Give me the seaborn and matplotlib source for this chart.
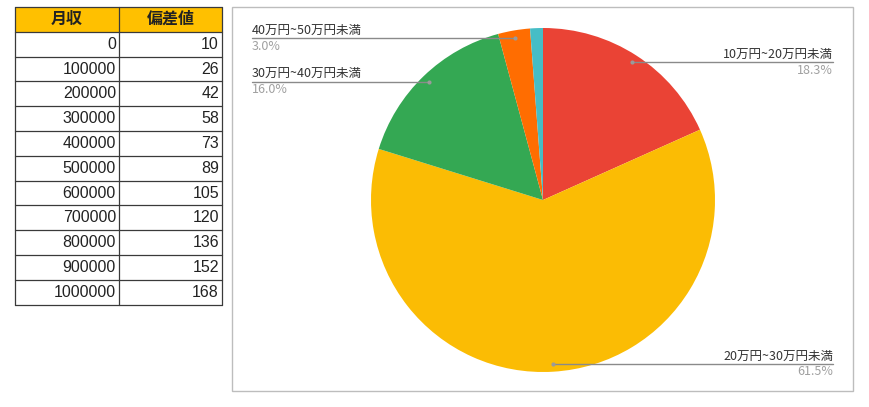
import numpy as np
import matplotlib.pyplot as plt
import seaborn as sns
from matplotlib.patches import Rectangle

# Table data (月収 -> 偏差値)
income = [0, 100000, 200000, 300000, 400000, 500000,
          600000, 700000, 800000, 900000, 1000000]
deviation = [10, 26, 42, 58, 73, 89, 105, 120, 136, 152, 168]
table_header = ["月収", "偏差値"]

# Pie data (share of monthly income bands, %)
pie_labels = ["10万円~20万円未満", "20万円~30万円未満", "30万円~40万円未満",
              "40万円~50万円未満", "50万円以上"]
pie_shares = [18.3, 61.5, 16.0, 3.0, 1.2]

sns.set_theme(style="white")
plt.rcParams['font.family'] = ['Liberation Sans', 'Noto Sans CJK JP', 'DejaVu Sans']

colors = sns.color_palette(["#EA4335", "#FBBC04", "#34A853", "#FF6D01", "#46BDC6"])

W, H = 870, 407
fig = plt.figure(figsize=(W / 100, H / 100), dpi=100)
fig.patch.set_facecolor("white")

# background axes in pixel coords: table + chart frame
bg = fig.add_axes([0, 0, 1, 1])
bg.set_xlim(0, W)
bg.set_ylim(H, 0)
bg.axis("off")

tx0, tx1, tx2 = 15, 119, 222
ty0, rh = 7, 24.8
nrows = len(income) + 1
bg.add_patch(Rectangle((tx0, ty0), tx2 - tx0, rh, color="#FFC000", lw=0))
for i in range(nrows + 1):
    y = ty0 + i * rh
    bg.plot([tx0, tx2], [y, y], color="#3a3a3a", lw=0.9)
for x in (tx0, tx1, tx2):
    bg.plot([x, x], [ty0, ty0 + nrows * rh], color="#3a3a3a", lw=0.9)

bg.text((tx0 + tx1) / 2, ty0 + rh / 2, table_header[0], ha="center", va="center",
        fontsize=11.5, fontweight="bold", color="#222222")
bg.text((tx1 + tx2) / 2, ty0 + rh / 2, table_header[1], ha="center", va="center",
        fontsize=11.5, fontweight="bold", color="#222222")
for i, (inc, dev) in enumerate(zip(income, deviation)):
    yc = ty0 + (i + 1.5) * rh
    bg.text(tx1 - 3, yc, str(inc), ha="right", va="center", fontsize=11.5, color="#222222")
    bg.text(tx2 - 3, yc, str(dev), ha="right", va="center", fontsize=11.5, color="#222222")

# chart frame
bg.add_patch(Rectangle((232, 7), 621, 384, fill=False, ec="#BDBDBD", lw=1))

# pie
cx, cy, R = 543, 200, 172
pax = fig.add_axes([(cx - R) / W, (H - cy - R) / H, 2 * R / W, 2 * R / H])
pax.pie(pie_shares, colors=colors, startangle=90, counterclock=False,
        wedgeprops=dict(linewidth=0))
pax.set_xlim(-1, 1)
pax.set_ylim(-1, 1)
pax.axis("off")

# overlay for leader lines and labels
ov = fig.add_axes([0, 0, 1, 1])
ov.set_xlim(0, W)
ov.set_ylim(H, 0)
ov.axis("off")
ov.patch.set_alpha(0)

cum = 0.0
for lab, share in zip(pie_labels, pie_shares):
    mid = np.deg2rad((cum + share / 2) / 100 * 360)
    cum += share
    if share < 2:
        continue
    dx, dy = np.sin(mid), -np.cos(mid)
    px, py = cx + 0.955 * R * dx, cy + 0.955 * R * dy
    right = dx > 0
    ex = 833 if right else 252
    ha = "right" if right else "left"
    ov.plot([px, ex], [py, py], color="#8a8a8a", lw=1)
    ov.plot([px], [py], marker="o", ms=3, color="#9a9a9a", mec="none")
    ov.text(ex, py - 1.5, lab, ha=ha, va="bottom", fontsize=9, color="#333333",
            family=['Noto Sans CJK JP', 'DejaVu Sans'])
    ov.text(ex, py + 1.5, f"{share:.1f}%", ha=ha, va="top", fontsize=9, color="#a0a0a0",
            family=['Noto Sans CJK JP', 'DejaVu Sans'])

fig.savefig("out.png", dpi=100)
